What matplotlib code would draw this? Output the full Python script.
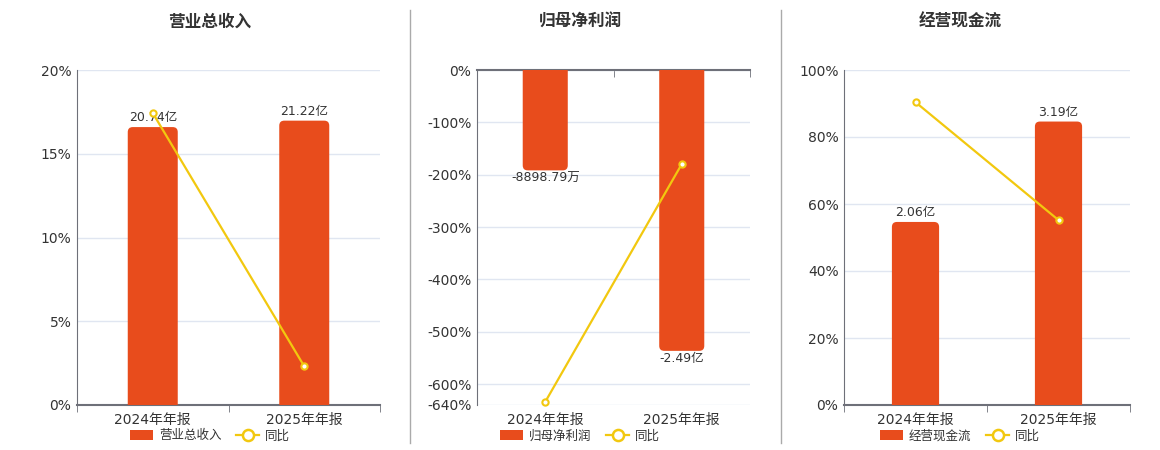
import numpy as np
import matplotlib
matplotlib.use("Agg")
import matplotlib.pyplot as plt
from matplotlib.patches import FancyBboxPatch, Patch
from matplotlib.lines import Line2D
from matplotlib.ticker import FuncFormatter

plt.rcParams["font.family"] = ["DejaVu Sans", "Noto Sans CJK SC"]

periods = ["2024年年报", "2025年年报"]

titles = ["营业总收入", "归母净利润", "经营现金流"]
# bar values in 亿
bar_values = [
    [20.74, 21.22],
    [-0.889879, -2.49],
    [2.06, 3.19],
]
bar_labels = [
    ["20.74亿", "21.22亿"],
    ["-8898.79万", "-2.49亿"],
    ["2.06亿", "3.19亿"],
]
# 同比 in %
yoy_values = [
    [17.43, 2.31],
    [-634.0, -179.8],
    [90.4, 55.2],
]
pct_ticks = [
    [0, 5, 10, 15, 20],
    [-640, -600, -500, -400, -300, -200, -100, 0],
    [0, 20, 40, 60, 80, 100],
]

BAR = "#E84C1C"
LINE = "#F2C80F"
AXIS = "#6E7079"
GRID = "#E0E6F1"
TXT = "#333333"

W, H = 1160, 450
fig = plt.figure(figsize=(W / 100, H / 100), dpi=100)

# pixel boxes: left, right, top, bottom
boxes = [(77, 380, 70, 405), (477, 750, 70, 405), (844, 1130, 70, 405)]
pct_lims = [(0, 20), (-640, 0), (0, 100)]
bar_lims = [(0, 25), (-2.97, 0), (0, 3.77)]
title_x = [210, 580, 960]
legend_x = [210, 580, 960]

for i in range(3):
    l, r, t, b = boxes[i]
    ax = fig.add_axes([l / W, 1 - b / H, (r - l) / W, (b - t) / H])
    x = np.arange(len(periods))

    # percent axis with grid
    ax.set_xlim(-0.5, 1.5)
    ax.set_ylim(*pct_lims[i])
    ax.set_yticks(pct_ticks[i])
    ax.yaxis.set_major_formatter(FuncFormatter(lambda v, p: f"{v:.0f}%"))
    ax.grid(axis="y", color=GRID, linewidth=1)
    ax.set_axisbelow(True)
    ax.tick_params(axis="y", length=0, labelsize=10, labelcolor=TXT, pad=4)
    ax.set_xticks(x)
    ax.set_xticklabels(periods)
    ax.set_xticks([-0.5, 0.5, 1.5], minor=True)
    ax.tick_params(axis="x", which="major", length=0, labelsize=10,
                   labelcolor=TXT, pad=6)
    for s in ax.spines.values():
        s.set_visible(False)
    ax.spines["left"].set_visible(True)
    ax.spines["left"].set_color(AXIS)
    negative = pct_lims[i][1] <= 0
    edge = "top" if negative else "bottom"
    ax.spines[edge].set_visible(True)
    ax.spines[edge].set_color(AXIS)
    ax.spines[edge].set_linewidth(1.5)
    if negative:
        ax.tick_params(axis="x", which="minor", bottom=False, top=True,
                       direction="in", length=5, color=AXIS)
    else:
        ax.tick_params(axis="x", which="minor", length=5, color=AXIS)

    # bars on hidden axis
    axb = ax.twinx()
    axb.set_ylim(*bar_lims[i])
    axb.axis("off")
    bars = axb.bar(x, bar_values[i], width=0.33, color=BAR)
    ppy = (b - t) / (bar_lims[i][1] - bar_lims[i][0])
    ppx = (r - l) / 2.0
    rad_x = 5 / ppx
    for bar, val, lab in zip(bars, bar_values[i], bar_labels[i]):
        bx, bw = bar.get_x(), bar.get_width()
        bar.set_visible(False)
        ext = 10 / ppy
        y0 = min(0, val) - (ext if val > 0 else 0)
        hgt = abs(val) + ext
        p = FancyBboxPatch((bx, y0), bw, hgt,
                           boxstyle=f"round,pad=0,rounding_size={rad_x}",
                           mutation_aspect=ppx / ppy,
                           facecolor=BAR, edgecolor="none")
        axb.add_patch(p)
        if val >= 0:
            axb.annotate(lab, (bx + bw / 2, val), xytext=(0, 2),
                         textcoords="offset points", ha="center", va="bottom",
                         fontsize=9, color=TXT)
        else:
            axb.annotate(lab, (bx + bw / 2, val), xytext=(0, -1),
                         textcoords="offset points", ha="center", va="top",
                         fontsize=9, color=TXT)

    # yoy line on top
    axl = ax.twinx()
    axl.set_ylim(*pct_lims[i])
    axl.axis("off")
    axl.plot(x, yoy_values[i], color=LINE, linewidth=1.6, marker="o",
             markersize=4.5, markerfacecolor="white", markeredgecolor=LINE,
             markeredgewidth=1.5, clip_on=False)

    fig.text(title_x[i] / W, 1 - 22 / H, titles[i], ha="center", va="center",
             fontsize=12, fontweight="bold", color=TXT)

    handles = [
        Patch(facecolor=BAR, edgecolor="none"),
        Line2D([0], [0], color=LINE, linewidth=1.6, marker="o", markersize=8,
               markerfacecolor="white", markeredgecolor=LINE,
               markeredgewidth=1.8),
    ]
    fig.legend(handles, [titles[i], "同比"], loc="center",
               bbox_to_anchor=(legend_x[i] / W, 1 - 436 / H), ncol=2,
               frameon=False, fontsize=9, handlelength=1.8, handleheight=0.9,
               columnspacing=1.2, handletextpad=0.5, labelcolor=TXT)

for sx in [410, 781]:
    fig.add_artist(Line2D([sx / W, sx / W], [1 - 10 / H, 1 - 443 / H],
                          color="#AAAAAA", linewidth=1))

fig.savefig("out.png", dpi=100, facecolor="white")
